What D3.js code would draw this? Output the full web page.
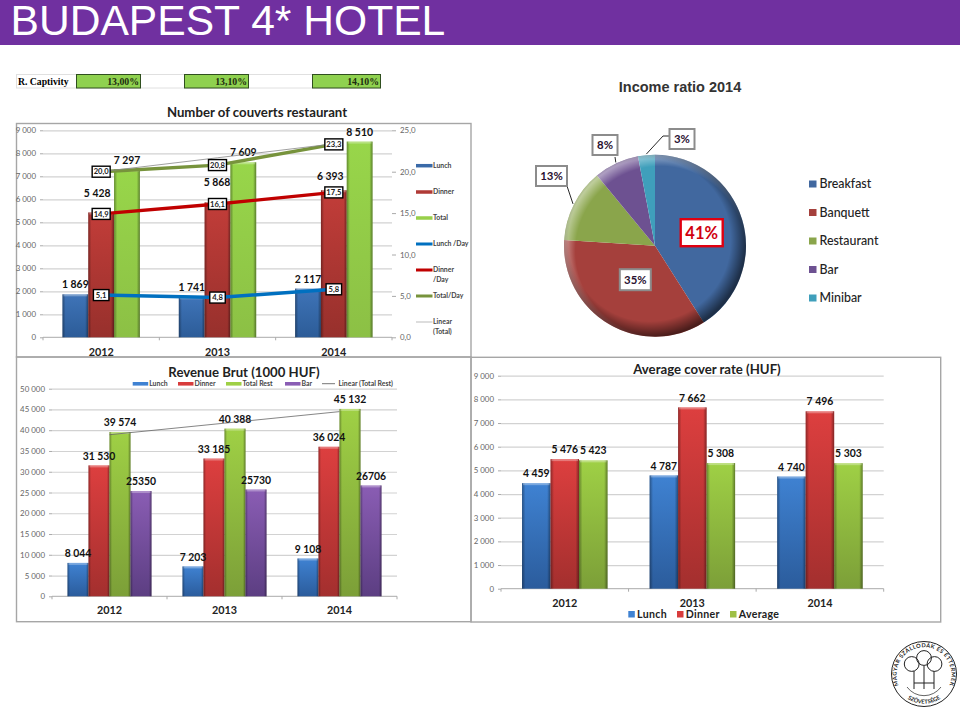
<!DOCTYPE html>
<html>
<head>
<meta charset="utf-8">
<script src="https://cdn.jsdelivr.net/npm/d3@7"></script>
<style>
body { margin: 0; background: #fff; }
svg { display: block; }
text { font-family: Lato, sans-serif; }
.grid line { stroke: #d2d2d2; stroke-width: 1.2; }
.grid path, .axis path { display: none; }
.axis line { stroke: #aaa; }
.axis text { font-size: 7.9px; fill: #666; }
.val { font-size: 10.4px; font-weight: 700; fill: #111; text-anchor: middle; }
.year { font-size: 10.8px; font-weight: 700; fill: #222; text-anchor: middle; }
.ttl { font-weight: 700; fill: #222; text-anchor: middle; }
</style>
</head>
<body>
<svg id="page" width="960" height="707"></svg>
<script>
// data
const years = ["2012", "2013", "2014"];

const captivity = [13.00, 13.10, 14.10];

const couvertLunch  = [1869, 1741, 2117];
const couvertDinner = [5428, 5868, 6393];
const couvertTotal  = [7297, 7609, 8510];
const perDayLunch   = [5.1, 4.8, 5.8];
const perDayDinner  = [14.9, 16.1, 17.5];
const perDayTotal   = [20.0, 20.8, 23.3];

const revenueLunch  = [8044, 7203, 9108];
const revenueDinner = [31530, 33185, 36024];
const revenueTotal  = [39574, 40388, 45132];
const revenueBar    = [25350, 25730, 26706];

const coverLunch   = [4459, 4787, 4740];
const coverDinner  = [5476, 7662, 7496];
const coverAverage = [5423, 5308, 5303];

const incomeNames  = ["Breakfast", "Banquett", "Restaurant", "Bar", "Minibar"];
const incomeShares = [41, 35, 13, 8, 3];

// colours: [top, bottom]
const BLUE   = ["#3f82d2", "#2b5c9c"];
const RED    = ["#dd3f3f", "#a32f2e"];
const GREEN  = ["#9fd045", "#7c9f38"];
const PURPLE = ["#8a5db4", "#5c3e82"];
const BLUE1  = ["#3f74b8", "#2c5c98"];
const RED1   = ["#c23d39", "#97302c"];
const GREEN1 = ["#98d64a", "#8cc045"];

const loc = d3.formatLocale({decimal: ",", thousands: " ", grouping: [3], currency: ["", ""]});
const fmtInt = loc.format(",d");
const fmtOne = loc.format(".1f");
const fmtPct = loc.format(".2f");

const page = d3.select("#page");
const defs = page.append("defs");

// one vertical gradient per colour pair, plus a side bevel
function gradient_id(_col)
{
    let id = "g" + _col[0].slice(1);
    if (defs.select("#" + id).empty()) {
        let g = defs.append("linearGradient").attr("id", id)
            .attr("x1", 0).attr("x2", 0).attr("y1", 0).attr("y2", 1);
        g.append("stop").attr("offset", 0).attr("stop-color", _col[0]);
        g.append("stop").attr("offset", 1).attr("stop-color", _col[1]);
    }
    return "url(#" + id + ")";
}
let bevel = defs.append("linearGradient").attr("id", "bevel");
[[0, 0.35], [0.12, 0], [0.88, 0], [1, 0.4]].forEach(function(s) {
    bevel.append("stop").attr("offset", s[0]).attr("stop-color", "#000").attr("stop-opacity", s[1]);
});

// least squares line over the band positions
function trend(_values)
{
    let n = _values.length, mx = (n - 1) / 2, my = d3.mean(_values);
    let slope = d3.sum(_values, (v, i) => (i - mx) * (v - my)) / d3.sum(_values, (v, i) => (i - mx) ** 2);
    return _values.map((v, i) => my + slope * (i - mx));
}

// frame, grid, axes and grouped bars shared by the three bar charts
function bar_chart(_o)
{
    let x0 = d3.scaleBand().domain(years).range(_o.xr);
    let y  = d3.scaleLinear().domain([0, _o.ymax]).range(_o.yr);
    let bw = _o.barw, n = _o.series.length;
    let left = d => x0(d) + x0.step() / 2 - bw * n / 2;

    let svg = page.append("g");
    svg.append("g").attr("class", "grid")
        .attr("transform", "translate(" + _o.xr[0] + ",0)")
        .call(d3.axisLeft(y).tickValues(d3.range(_o.ystep, _o.ymax + 1, _o.ystep)).tickFormat("").tickSize(-(_o.xr[1] - _o.xr[0])));
    svg.append("g").attr("class", "axis")
        .attr("transform", "translate(" + _o.xr[0] + ",0)")
        .call(d3.axisLeft(y).tickValues(d3.range(0, _o.ymax + 1, _o.ystep)).tickFormat(fmtInt).tickSize(3).tickPadding(4));

    // baseline and separators between the years
    svg.append("line").attr("x1", _o.xr[0]).attr("x2", _o.xr[1]).attr("y1", y(0)).attr("y2", y(0)).attr("stroke", "#aaa");
    svg.selectAll(".sep").data(d3.range(4)).join("line")
        .attr("x1", i => _o.xr[0] + i * x0.step()).attr("x2", i => _o.xr[0] + i * x0.step())
        .attr("y1", y(0)).attr("y2", y(0) + 3).attr("stroke", "#aaa");

    _o.series.forEach(function(s, k) {
        let g = svg.append("g");
        years.forEach(function(yr, i) {
            let v = s.values[i], bx = left(yr) + k * bw;
            g.append("rect").attr("x", bx).attr("y", y(v)).attr("width", bw).attr("height", y(0) - y(v))
                .attr("fill", gradient_id(s.col));
            g.append("rect").attr("x", bx).attr("y", y(v)).attr("width", bw).attr("height", y(0) - y(v))
                .attr("fill", "url(#bevel)");
            g.append("rect").attr("x", bx + 1).attr("y", y(v)).attr("width", bw - 2).attr("height", 2)
                .attr("fill", "#fff").attr("opacity", 0.3);
        });
    });

    svg.selectAll(".year").data(years).join("text").attr("class", "year")
        .attr("x", d => x0(d) + x0.step() / 2).attr("y", _o.yearY).attr("dy", "0.35em").text(d => d);

    // value labels go last so the per-day lines can be drawn in between
    svg.draw_labels = function() {
        _o.series.forEach(function(s, k) {
            years.forEach(function(yr, i) {
                let lift = s.lift ? s.lift[i] : 9.5, shift = s.shift ? s.shift[i] : 0;
                svg.append("text").attr("class", "val")
                    .attr("x", left(yr) + k * bw + bw / 2 + shift)
                    .attr("y", y(s.values[i]) - lift).attr("dy", "0.35em")
                    .text(s.raw ? s.values[i] : fmtInt(s.values[i]));
            });
        });
    };
    svg.x0 = x0; svg.y = y;
    return svg;
}

function frame(_x1, _y1, _x2, _y2)
{
    page.append("rect").attr("x", _x1).attr("y", _y1).attr("width", _x2 - _x1).attr("height", _y2 - _y1)
        .attr("fill", "none").attr("stroke", "#a6a6a6").attr("stroke-width", 1.4);
}

function title(_t, _x, _y, _size)
{
    page.append("text").attr("class", "ttl").attr("x", _x).attr("y", _y).attr("dy", "0.35em")
        .style("font-size", _size + "px").text(_t);
}

// header
page.append("rect").attr("width", 960).attr("height", 45).attr("fill", "#7030a0");
page.append("text").attr("x", 10.5).attr("y", 35).attr("fill", "#fff")
    .style("font-family", "'Liberation Sans'").style("font-size", "42.6px").text("BUDAPEST 4* HOTEL");

// captivity row
const capX = [76.5, 184.5, 312.5];
const capW = [64, 64, 68];
page.append("rect").attr("x", 16.5).attr("y", 74.5).attr("width", 364).attr("height", 13.5)
    .attr("fill", "#fff").attr("stroke", "#e0e0e0");
page.append("text").attr("x", 18).attr("y", 81.5).attr("dy", "0.35em")
    .style("font-family", "'Liberation Serif'").style("font-size", "9.7px").style("font-weight", 700).text("R. Captivity");
years.forEach(function(yr, i) {
    page.append("rect").attr("x", capX[i]).attr("y", 74.5).attr("width", capW[i]).attr("height", 13.5)
        .attr("fill", "#8fd14f").attr("stroke", "#2f4f1f").attr("stroke-width", 1);
    page.append("text").attr("x", capX[i] + capW[i] - 1.5).attr("y", 81.5).attr("dy", "0.35em").attr("text-anchor", "end")
        .style("font-family", "'Liberation Serif'").style("font-size", "9.8px").style("font-weight", 700)
        .attr("fill", "#1d2d10").text(fmtPct(captivity[i]) + "%");
});

// ---- number of couverts ----
frame(16.5, 123.5, 471, 357);
let c1 = bar_chart({
    xr: [43, 392], yr: [337.3, 130.3], ymax: 9000, ystep: 1000, barw: 25.8, yearY: 352,
    series: [
        {values: couvertLunch, col: BLUE1},
        {values: couvertDinner, col: RED1, lift: [19.5, 19.6, 14], shift: [-4, -0.5, -3.5]},
        {values: couvertTotal, col: GREEN1}
    ]
});
title("Number of couverts restaurant", 257, 112.7, 13.2);
let yRight = d3.scaleLinear().domain([0, 25]).range([337.3, 130.3]);
page.append("g").attr("class", "axis").attr("transform", "translate(392,0)")
    .call(d3.axisRight(yRight).tickValues(d3.range(0, 26, 5)).tickFormat(fmtOne).tickSize(4).tickPadding(4));

const perDay = [
    {values: perDayLunch, col: "#0070c0"},
    {values: perDayDinner, col: "#c00000"},
    {values: perDayTotal, col: "#77933c"}
];
let xMid = d => c1.x0(d) + c1.x0.step() / 2;
let perDayLine = d3.line().x((v, i) => xMid(years[i])).y(v => yRight(v));
perDay.forEach(function(s) {
    page.append("path").attr("d", perDayLine(s.values)).attr("fill", "none")
        .attr("stroke", s.col).attr("stroke-width", 3.4);
});
let trend1 = d3.line().x((v, i) => xMid(years[i])).y(v => c1.y(v));
page.append("path").attr("d", trend1(trend(couvertTotal))).attr("fill", "none").attr("stroke", "#888").attr("stroke-width", 0.8);
c1.draw_labels();
perDay.forEach(function(s) {
    s.values.forEach(function(v, i) {
        let w = v >= 10 ? 18 : 15.5;
        page.append("rect").attr("x", xMid(years[i]) - w / 2).attr("y", yRight(v) - 5.5).attr("width", w).attr("height", 11)
            .attr("fill", "#fff").attr("stroke", "#000").attr("stroke-width", 1.4);
        page.append("text").attr("x", xMid(years[i])).attr("y", yRight(v)).attr("dy", "0.35em").attr("text-anchor", "middle")
            .style("font-size", "7.6px").style("font-weight", 700).attr("fill", "#222").text(fmtOne(v));
    });
});

// legend of the couverts chart
function legend_text(_x, _y, _lines, _size)
{
    _lines.forEach(function(t, i) {
        page.append("text").attr("x", _x).attr("y", _y + i * 9.6).attr("dy", "0.35em")
            .style("font-size", _size + "px").style("font-weight", 700).attr("fill", "#444").text(t);
    });
}
const legend1 = [
    {t: ["Lunch"], c: "#3a6aa8", h: 3.5, y: 165.7},
    {t: ["Dinner"], c: "#b03a36", h: 3.5, y: 192},
    {t: ["Total"], c: "#98d04a", h: 3.5, y: 218},
    {t: ["Lunch /Day"], c: "#0070c0", h: 3, y: 244},
    {t: ["Dinner", "/Day"], c: "#c00000", h: 3, y: 270},
    {t: ["Total/Day"], c: "#77933c", h: 3, y: 296},
    {t: ["Linear", "(Total)"], c: "#aaa", h: 0.8, y: 322}
];
legend1.forEach(function(d) {
    page.append("rect").attr("x", 416).attr("y", d.y - d.h / 2).attr("width", 16.5).attr("height", d.h).attr("fill", d.c);
    legend_text(433, d.y, d.t, 6.9);
});

// ---- revenue ----
frame(16.5, 357, 471, 621.7);
let c2 = bar_chart({
    xr: [52, 397], yr: [596.3, 388.7], ymax: 50000, ystep: 5000, barw: 21, yearY: 610.7,
    series: [
        {values: revenueLunch, col: BLUE},
        {values: revenueDinner, col: RED},
        {values: revenueTotal, col: GREEN},
        {values: revenueBar, col: PURPLE, raw: true}
    ]
});
title("Revenue Brut (1000 HUF)", 244, 372, 13.2);
let trend2 = d3.line().x((v, i) => c2.x0(years[i]) + c2.x0.step() / 2).y(v => c2.y(v));
page.append("path").attr("d", trend2(trend(revenueTotal))).attr("fill", "none").attr("stroke", "#666").attr("stroke-width", 0.8);
c2.draw_labels();

const legend2 = [
    {t: "Lunch", c: "#3f82d2", x: 132.7},
    {t: "Dinner", c: "#d83c3c", x: 178},
    {t: "Total Rest", c: "#9fd045", x: 226},
    {t: "Bar", c: "#8a5db4", x: 285}
];
legend2.forEach(function(d) {
    page.append("rect").attr("x", d.x).attr("y", 382).attr("width", 15.5).attr("height", 3.6).attr("fill", d.c);
    legend_text(d.x + 16.5, 383.7, [d.t], 6.9);
});
page.append("line").attr("x1", 322).attr("x2", 335).attr("y1", 383.7).attr("y2", 383.7).attr("stroke", "#777");
legend_text(338.5, 383.7, ["Linear (Total Rest)"], 6.9);

// ---- average cover rate ----
frame(471, 357.3, 940.7, 622);
let c3 = bar_chart({
    xr: [501, 883.7], yr: [588.7, 375.7], ymax: 9000, ystep: 1000, barw: 28.5, yearY: 603.3,
    series: [
        {values: coverLunch, col: BLUE},
        {values: coverDinner, col: RED},
        {values: coverAverage, col: GREEN}
    ]
});
title("Average cover rate (HUF)", 707, 369.5, 13.2);
c3.draw_labels();
const legend3 = [
    {t: "Lunch", c: "#3f82d2", x: 628.3},
    {t: "Dinner", c: "#d83c3c", x: 677},
    {t: "Average", c: "#9fc045", x: 730}
];
legend3.forEach(function(d) {
    page.append("rect").attr("x", d.x).attr("y", 611).attr("width", 6.5).attr("height", 6.5).attr("fill", d.c);
    page.append("text").attr("x", d.x + 8.8).attr("y", 614.3).attr("dy", "0.35em")
        .style("font-size", "10.6px").style("font-weight", 700).style("letter-spacing", "0.3px").attr("fill", "#222").text(d.t);
});

// ---- income pie ----
page.append("text").attr("x", 680).attr("y", 86.5).attr("dy", "0.35em").attr("text-anchor", "middle")
    .style("font-family", "'Liberation Sans'").style("font-size", "14.5px").style("font-weight", 700).attr("fill", "#333")
    .text("Income ratio 2014");

const pieColors = ["#41689f", "#a5403c", "#8aa54b", "#6d5191", "#3f9fbb"];
const pieCx = 655, pieCy = 245.7, pieR = 91;
let pie = d3.pie().sort(null)(incomeShares);
let arc = d3.arc().innerRadius(0).outerRadius(pieR);
let pieG = page.append("g").attr("transform", "translate(" + pieCx + "," + pieCy + ")");
pieG.selectAll("path").data(pie).join("path").attr("d", arc).attr("fill", (d, i) => pieColors[i]);

// bevel of the disc: dark towards lower right, light towards upper left
let dark = defs.append("radialGradient").attr("id", "pieDark").attr("cx", 0.47).attr("cy", 0.47).attr("r", 0.53);
[[0.84, 0], [1, 0.55]].forEach(s => dark.append("stop").attr("offset", s[0]).attr("stop-color", "#000").attr("stop-opacity", s[1]));
let light = defs.append("radialGradient").attr("id", "pieLight").attr("cx", 0.53).attr("cy", 0.53).attr("r", 0.53);
[[0.88, 0], [1, 0.45]].forEach(s => light.append("stop").attr("offset", s[0]).attr("stop-color", "#fff").attr("stop-opacity", s[1]));
pieG.append("circle").attr("r", pieR).attr("fill", "url(#pieLight)");
pieG.append("circle").attr("r", pieR).attr("fill", "url(#pieDark)");

// label boxes, relative to the pie centre
const pieLabelPos  = [[46.7, -13], [-19.7, 34], [-103.5, -69.7], [-50, -100.7], [27, -106.7]];
const pieLabelSize = [[42, 27], [31, 21], [31, 20], [25, 20], [25, 20]];
const pieLeaderEnd = [null, null, [-88, -59.7], [-40, -88.7], [8, -109.7]];
incomeShares.forEach(function(v, i) {
    let mid = (pie[i].startAngle + pie[i].endAngle) / 2;
    if (pieLeaderEnd[i]) {
        let pts = [[Math.sin(mid) * (pieR + 1), -Math.cos(mid) * (pieR + 1)], pieLeaderEnd[i]];
        if (i == 4) pts.push([14, -109.7]);
        pieG.append("path").attr("d", d3.line()(pts)).attr("fill", "none").attr("stroke", "#111").attr("stroke-width", 0.9);
    }
    let p = pieLabelPos[i], s = pieLabelSize[i], big = i == 0;
    pieG.append("rect").attr("x", p[0] - s[0] / 2).attr("y", p[1] - s[1] / 2).attr("width", s[0]).attr("height", s[1])
        .attr("fill", "#fff").attr("stroke", big ? "#e00010" : "#8c8c8c").attr("stroke-width", big ? 2.4 : 2);
    pieG.append("text").attr("x", p[0]).attr("y", p[1]).attr("dy", "0.36em").attr("text-anchor", "middle")
        .style("font-size", big ? "16.5px" : "11.4px").style("font-weight", 700)
        .attr("fill", big ? "#d00010" : "#2a1030").text(v + "%");
});

// pie legend
let legY = d3.scalePoint().domain(incomeNames).range([184, 298]);
incomeNames.forEach(function(n, i) {
    page.append("rect").attr("x", 809).attr("y", legY(n) - 3.5).attr("width", 7.5).attr("height", 7).attr("fill", pieColors[i]);
    page.append("text").attr("x", 819.5).attr("y", legY(n)).attr("dy", "0.35em")
        .style("font-size", "12.4px").style("font-weight", 500).attr("fill", "#222").text(n);
});

// association seal, bottom right
let seal = page.append("g").attr("transform", "translate(924,674)").attr("fill", "none").attr("stroke", "#222");
seal.append("circle").attr("r", 32.5).attr("stroke-width", 1);
[[-12.3, -10], [0, -16], [10.5, -10]].forEach(function(c) {
    seal.append("circle").attr("cx", c[0]).attr("cy", c[1]).attr("r", 7.4).attr("stroke-width", 1);
});
[[-10, -3, -10, 15], [0, -8, 0, 15], [10, -3, 10, 15], [-10, 9, 10, 9]].forEach(function(l) {
    seal.append("line").attr("x1", l[0]).attr("y1", l[1]).attr("x2", l[2]).attr("y2", l[3]).attr("stroke-width", 1);
});
seal.append("path").attr("d", "M-17,13 A21,21 0 0,0 17,13").attr("stroke-width", 0.7);
defs.append("path").attr("id", "sealTop").attr("d", "M-25.5,11 A27.5,27.5 0 1,1 25.5,11");
defs.append("path").attr("id", "sealBot").attr("d", "M-22,20 A30,30 0 0,0 22,20");
seal.append("text").attr("fill", "#222").attr("stroke", "none").style("font-size", "5.6px").style("font-weight", 700).style("letter-spacing", "0.45px")
    .append("textPath").attr("href", "#sealTop").attr("startOffset", "50%").attr("text-anchor", "middle").text("MAGYAR SZÁLLODÁK ÉS ÉTTERMEK");
seal.append("text").attr("fill", "#222").attr("stroke", "none").style("font-size", "5.6px").style("font-weight", 700)
    .append("textPath").attr("href", "#sealBot").attr("startOffset", "50%").attr("text-anchor", "middle").text("SZÖVETSÉGE");
</script>
</body>
</html>
